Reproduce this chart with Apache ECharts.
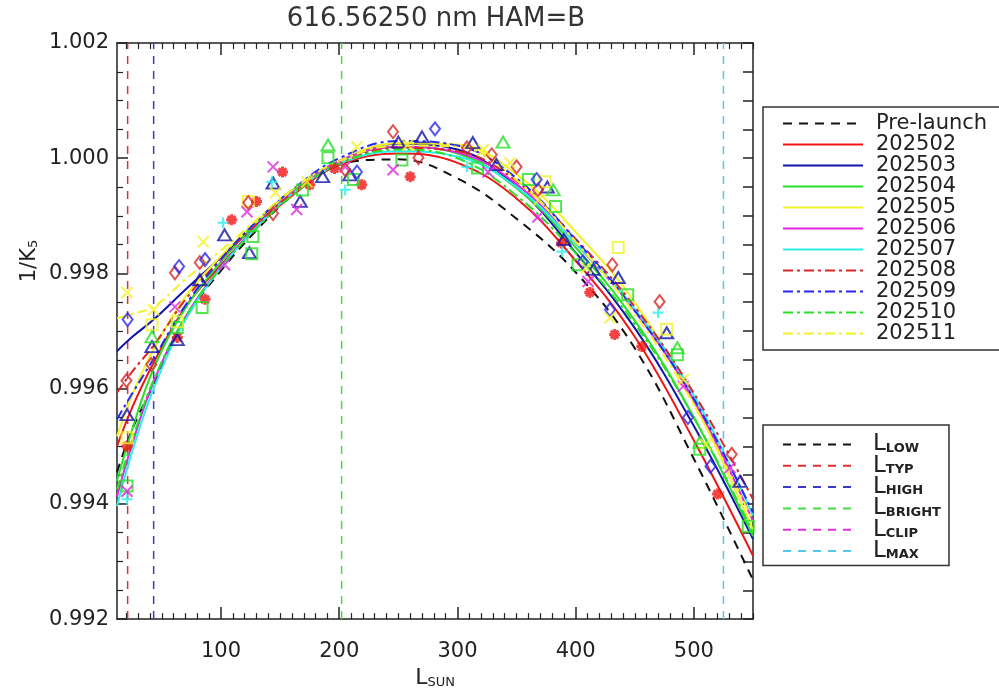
<!DOCTYPE html>
<html>
<head>
<meta charset="utf-8">
<script src="https://cdn.jsdelivr.net/npm/echarts@6/dist/echarts.min.js"></script>
<style>html,body{margin:0;padding:0;background:#fff;}#c{width:999px;height:694px;}</style>
</head>
<body>
<div id="c"></div>
<script>
// ---------- data ----------
const titleText = '616.56250 nm HAM=B';
const xMajorTicks = [100, 200, 300, 400, 500];
const yRange = [0.992, 1.002];
const xRange = [12, 550];

const curveX = [12, 25, 43, 70, 100, 130, 160, 200, 250, 300, 350, 400, 450, 500, 550];
const preLaunch = [0.99455, 0.99530, 0.99607, 0.99722, 0.99805, 0.99875, 0.99935, 0.99990, 0.99998, 0.99965, 0.99895, 0.99802, 0.99670, 0.99478, 0.99268];
const fit202502 = [0.99500, 0.99568, 0.99645, 0.99742, 0.99815, 0.99880, 0.99935, 0.99988, 1.00008, 0.99992, 0.99930, 0.99822, 0.99690, 0.99510, 0.99310];
const fit202503 = [0.99665, 0.99690, 0.99720, 0.99772, 0.99828, 0.99885, 0.99940, 0.99995, 1.00025, 1.00015, 0.99950, 0.99836, 0.99705, 0.99535, 0.99339];
const fit202504 = [0.99440, 0.99530, 0.99635, 0.99740, 0.99820, 0.99888, 0.99944, 0.99995, 1.00020, 1.00008, 0.99948, 0.99845, 0.99718, 0.99550, 0.99344];
const fit202505 = [0.99517, 0.99590, 0.99668, 0.99760, 0.99830, 0.99890, 0.99942, 0.99995, 1.00026, 1.00024, 0.99972, 0.99872, 0.99750, 0.99575, 0.99355];
const fit202506 = [0.99413, 0.99505, 0.99612, 0.99725, 0.99812, 0.99882, 0.99940, 0.99995, 1.00020, 1.00010, 0.99955, 0.99852, 0.99735, 0.99580, 0.99370];
const fit202507 = [0.99396, 0.99492, 0.99600, 0.99720, 0.99810, 0.99880, 0.99938, 0.99990, 1.00012, 1.00003, 0.99950, 0.99852, 0.99738, 0.99588, 0.99380];
const fit202508 = [0.99593, 0.99630, 0.99675, 0.99755, 0.99825, 0.99885, 0.99938, 0.99990, 1.00018, 1.00012, 0.99960, 0.99860, 0.99742, 0.99592, 0.99408];
const fit202509 = [0.99547, 0.99592, 0.99652, 0.99745, 0.99825, 0.99890, 0.99945, 1.00000, 1.00030, 1.00022, 0.99965, 0.99858, 0.99735, 0.99582, 0.99385];
const fit202510 = [0.99425, 0.99512, 0.99615, 0.99725, 0.99810, 0.99878, 0.99935, 0.99990, 1.00015, 1.00000, 0.99935, 0.99835, 0.99712, 0.99550, 0.99350];
const fit202511 = [0.99722, 0.99730, 0.99742, 0.99790, 0.99840, 0.99893, 0.99945, 0.99995, 1.00022, 1.00020, 0.99962, 0.99855, 0.99730, 0.99572, 0.99370];

const pts202502 = [[20.5,0.99500],[63,0.99689],[86.5,0.99755],[109,0.99893],[130,0.99925],[152,0.99976],[175,0.99954],[196,0.99982],[219,0.99954],[260,0.99968],[388,0.99853],[412,0.99767],[433,0.99694],[456,0.99673],[520,0.99417]];
const pts202503 = [[20.5,0.99555],[41.6,0.99673],[63,0.99685],[82,0.99789],[103,0.99867],[124,0.99836],[144,0.99957],[167,0.99925],[186,0.99968],[209,0.99971],[250,1.00028],[270,1.00037],[313,1.00027],[333,0.99989],[376,0.99950],[390,0.99859],[415,0.99807],[436,0.99793],[477,0.99697],[539,0.99439]];
const pts202504 = [[20.5,0.99431],[63,0.99706],[84,0.99741],[126,0.99834],[127,0.99864],[169,0.99945],[190.5,1.00001],[212,0.99963],[253,0.99997],[317,0.99983],[360,0.99963],[383,0.99916],[402,0.99815],[444,0.99763],[486,0.99659],[505,0.99495],[546,0.99361]];
const pts202505 = [[20.5,0.99515],[41.6,0.99711],[63,0.99716],[123,0.99925],[374,0.99959],[436,0.99845],[477,0.99703]];
const pts202506 = [[20.5,0.99422],[61,0.99742],[103,0.99815],[122,0.99907],[144,0.99985],[164,0.99911],[205,0.99985],[245.5,0.99980],[326,0.99976],[368,0.99898],[410.5,0.99786],[491,0.99604],[530.6,0.99463]];
const pts202507 = [[20.5,0.99408],[101.7,0.99888],[143,0.99959],[205,0.99945],[308,0.99985],[388.5,0.99838],[469.7,0.99732]];
const pts202508 = [[20,0.99614],[41,0.99642],[61,0.99801],[82,0.99819],[123,0.99923],[144,0.99904],[205,0.99980],[245.5,1.00046],[267,1.00001],[308,1.00018],[329,1.00006],[350,0.99985],[368,0.99945],[431,0.99815],[471,0.99751],[532,0.99486]];
const pts202509 = [[21,0.99720],[64.5,0.99812],[86.5,0.99824],[215,0.99976],[281,1.00051],[367,0.99963],[406,0.99820],[429,0.99737],[495,0.99550],[514,0.99465]];
const pts202510 = [[41.6,0.99690],[190.5,1.00023],[338.6,1.00028],[381,0.99945],[486,0.99671],[505,0.99507]];
const pts202511 = [[20.5,0.99767],[43,0.99737],[85,0.99855],[146,0.99940],[172.7,0.99959],[215,1.00020],[258,1.00023],[322,1.00015],[344.5,0.99992],[369,0.99928],[409,0.99810],[429,0.99723],[491,0.99616],[510,0.99503]];

const months = ['202502','202503','202504','202505','202506','202507','202508','202509','202510','202511'];
const lNames = ['L_LOW','L_TYP','L_HIGH','L_BRIGHT','L_CLIP','L_MAX'];
const lValues = [8, 21, 43, 202, 565, 525];

// ---------- styles ----------
const FONT = 'DejaVu Sans';
const TXT = '#222';
const fits = [fit202502, fit202503, fit202504, fit202505, fit202506, fit202507, fit202508, fit202509, fit202510, fit202511];
const pts = [pts202502, pts202503, pts202504, pts202505, pts202506, pts202507, pts202508, pts202509, pts202510, pts202511];
const colors = ['#f01414','#1414a8','#28e028','#f2f228','#e028e0','#28f0f0','#d82828','#2828f0','#28e028','#f2f228'];
const dashDot = [10, 4, 3, 4];
const SYM = {
  star: 'path://M5 0L5 10M0 5L10 5M1.5 1.5L8.5 8.5M8.5 1.5L1.5 8.5',
  x: 'path://M0 0L10 10M10 0L0 10',
  plus: 'path://M5 0L5 10M0 5L10 5',
  tri: 'path://M5 0L10 9L0 9Z',
  dia: 'path://M5 0L10 7L5 14L0 7Z',
  sq: 'path://M0 0L10 0L10 10L0 10Z'
};
const symOf = [SYM.star, SYM.tri, SYM.sq, SYM.sq, SYM.x, SYM.plus, SYM.dia, SYM.dia, SYM.tri, SYM.x];
const symSize = {};
symSize[SYM.star] = [11, 11]; symSize[SYM.x] = [11, 11]; symSize[SYM.plus] = [11, 11];
symSize[SYM.tri] = [13, 11]; symSize[SYM.dia] = [10, 13]; symSize[SYM.sq] = [11, 11];
const symWidth = {};
symWidth[SYM.star] = 3; symWidth[SYM.x] = 2; symWidth[SYM.plus] = 2.2;
symWidth[SYM.tri] = 2; symWidth[SYM.dia] = 2; symWidth[SYM.sq] = 2;
const lColors = ['#111111','#e03030','#3a3ac8','#44dd44','#dd33dd','#55c8e8'];

const zip = (xs, ys) => xs.map((x, i) => [x, ys[i]]);

const series = [];
series.push({
  name: 'Pre-launch', type: 'line', data: zip(curveX, preLaunch), smooth: 0.4,
  symbol: 'none', z: 3,
  lineStyle: { color: '#111', width: 2, type: [9, 7] }, itemStyle: { color: '#111' }
});
months.forEach((m, i) => {
  series.push({
    name: m, type: 'line', data: zip(curveX, fits[i]), smooth: 0.4, symbol: 'none', z: 3,
    lineStyle: { color: colors[i], width: 2, type: i >= 6 ? dashDot : 'solid' },
    itemStyle: { color: colors[i] }
  });
});
months.forEach((m, i) => {
  series.push({
    name: 'pts' + m, type: 'scatter', data: pts[i], symbol: symOf[i], symbolSize: symSize[symOf[i]], z: 4,
    itemStyle: { color: 'transparent', borderColor: colors[i], borderWidth: symWidth[symOf[i]] }
  });
});
lNames.forEach((n, i) => {
  series.push({
    name: n, type: 'line', data: [[lValues[i], yRange[0]], [lValues[i], yRange[1]]], symbol: 'none', z: 2,
    lineStyle: { color: lColors[i], width: 1.5, type: [8, 7] }, itemStyle: { color: lColors[i] }
  });
});

const minorX = [];
for (let v = 20; v <= 550; v += 10) if (v % 100 !== 0) minorX.push(v);

const axLine = { show: true, lineStyle: { color: '#222', width: 1.5 } };
const xBase = { type: 'value', min: xRange[0], max: xRange[1], splitLine: { show: false } };

const chart = echarts.init(document.getElementById('c'), null, { renderer: 'canvas' });
chart.setOption({
  animation: false,
  backgroundColor: '#fff',
  textStyle: { fontFamily: FONT },
  grid: { left: 117, top: 43, right: 246, bottom: 74 },
  xAxis: [
    Object.assign({}, xBase, {
      position: 'bottom', axisLine: axLine,
      axisTick: { show: true, inside: true, length: 12, customValues: xMajorTicks, lineStyle: { color: '#222', width: 1.5 } },
      axisLabel: { customValues: xMajorTicks, fontFamily: FONT, fontSize: 21, color: TXT, margin: 22 },
      name: 'L{s|SUN}', nameLocation: 'middle', nameGap: 41,
      nameTextStyle: { fontFamily: FONT, fontSize: 22, color: TXT, rich: { s: { fontFamily: FONT, fontSize: 13, color: TXT, verticalAlign: 'bottom', padding: [8, 0, 0, 0] } } }
    }),
    Object.assign({}, xBase, {
      position: 'bottom', axisLine: { show: false },
      axisTick: { show: true, inside: true, length: 6, customValues: minorX, lineStyle: { color: '#222', width: 1.2 } },
      axisLabel: { show: false }
    }),
    Object.assign({}, xBase, {
      position: 'top', axisLine: axLine,
      axisTick: { show: true, inside: true, length: 12, customValues: xMajorTicks, lineStyle: { color: '#222', width: 1.5 } },
      axisLabel: { show: false }
    }),
    Object.assign({}, xBase, {
      position: 'top', axisLine: { show: false },
      axisTick: { show: true, inside: true, length: 6, customValues: minorX, lineStyle: { color: '#222', width: 1.2 } },
      axisLabel: { show: false }
    })
  ],
  yAxis: [
    {
      type: 'value', position: 'left', min: yRange[0], max: yRange[1], interval: 0.002,
      axisLine: axLine, splitLine: { show: false },
      axisTick: { show: true, inside: true, length: 11, lineStyle: { color: '#222', width: 1.5 } },
      minorTick: { show: true, splitNumber: 4, length: 6, lineStyle: { color: '#222', width: 1.2 } },
      axisLabel: { fontFamily: FONT, fontSize: 21, color: TXT, margin: 8, formatter: v => v.toFixed(3) }
    },
    {
      type: 'value', position: 'right', min: yRange[0], max: yRange[1], interval: 0.0005,
      axisLine: axLine, splitLine: { show: false },
      axisTick: { show: true, inside: true, length: 10, lineStyle: { color: '#222', width: 1.5 } },
      axisLabel: { show: false }
    }
  ],
  legend: [
    {
      orient: 'vertical', left: 763, top: 107, itemGap: 0, itemWidth: 80, itemHeight: 21,
      selectedMode: false, data: ['Pre-launch'].concat(months),
      borderColor: '#333', borderWidth: 1.5, padding: [6, 30, 6, 19],
      itemStyle: { opacity: 0 },
      textStyle: { fontFamily: FONT, fontSize: 21, color: TXT, lineHeight: 21, padding: [0, 0, 0, 8] }
    },
    {
      orient: 'vertical', left: 763, top: 425, itemGap: -2.7, itemWidth: 71, itemHeight: 21,
      selectedMode: false, data: lNames,
      borderColor: '#333', borderWidth: 1.5, padding: [7, 8, 3, 19],
      itemStyle: { opacity: 0 },
      formatter: n => '{l|L}{s|' + n.slice(2) + '}',
      textStyle: { fontFamily: FONT, fontSize: 21, color: TXT, lineHeight: 21, padding: [0, 0, 0, 14],
        rich: {
          l: { fontFamily: FONT, fontSize: 23, lineHeight: 21, color: TXT },
          s: { fontFamily: FONT, fontSize: 13, lineHeight: 11, fontWeight: 'bold', color: TXT, verticalAlign: 'bottom', padding: [10, 0, 0, 0] }
        } }
    }
  ],
  graphic: [
    {
      type: 'text', x: 436, y: 19, z: 10,
      style: { text: titleText, font: '26px "DejaVu Sans"', fill: '#333', align: 'center', verticalAlign: 'middle' }
    },
    {
      type: 'text', x: 30, y: 261, rotation: Math.PI / 2,
      style: { text: '1/K{s|5}', font: '21px "DejaVu Sans"', fill: TXT, align: 'center', verticalAlign: 'middle',
        rich: { s: { font: '13px "DejaVu Sans"', fill: TXT, verticalAlign: 'bottom', padding: [8, 0, 0, 0] } } }
    }
  ],
  series: series
});
</script>
</body>
</html>
